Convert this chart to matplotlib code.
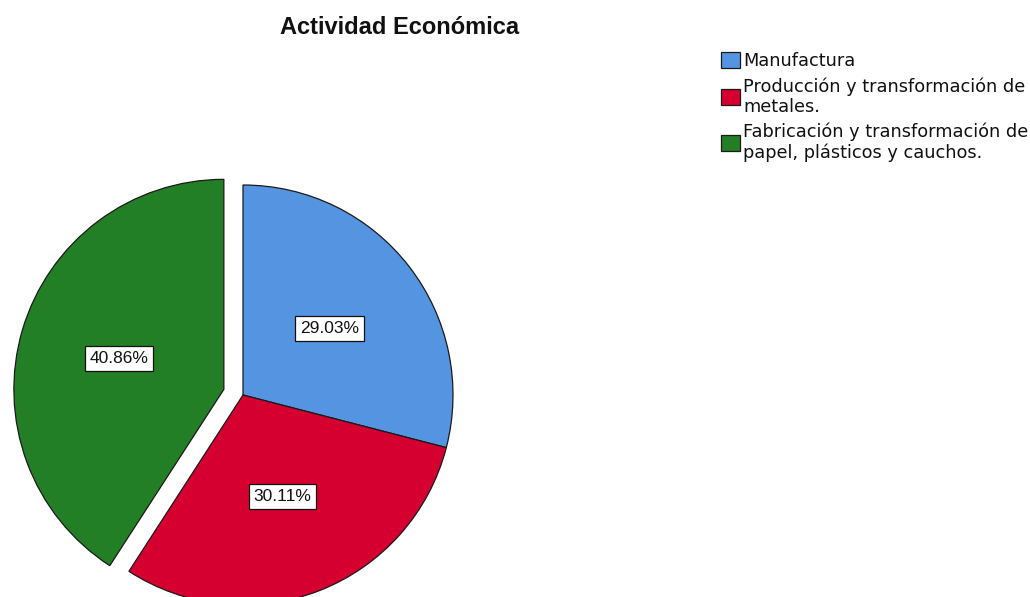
import matplotlib.pyplot as plt
from matplotlib.patches import Patch

# Actividad economica de las empresas (porcentajes)
categorias = ['Manufactura',
              'Producción y transformación de\nmetales.',
              'Fabricación y transformación de\npapel, plásticos y cauchos.']
porcentajes = [29.03, 30.11, 40.86]
colores = ['#5594e0', '#d5002f', '#237f26']
separar = [0, 0, 0.095]

plt.rcParams['font.family'] = ['Liberation Sans', 'DejaVu Sans']

W, H = 1030, 597
fig = plt.figure(figsize=(W / 100, H / 100), dpi=100)

# ejes en pixeles: centro del pastel en (243, 395), radio 210 px
cx, cy, r = 243, H - 395, 210
aw = 520
ax = fig.add_axes([0, 0, aw / W, 1])

wedges, textos, autotextos = ax.pie(
    porcentajes, colors=colores, startangle=90, counterclock=False,
    explode=separar, autopct='%.2f%%', pctdistance=0.52,
    wedgeprops=dict(edgecolor='#1a1a1a', linewidth=0.9),
    textprops=dict(fontsize=12.5, color='#111111'), radius=1)
ax.set_xlim(-cx / r, (aw - cx) / r)
ax.set_ylim(-cy / r, (H - cy) / r)
ax.set_aspect('auto')
ax.axis('off')
for t in autotextos:
    t.set_bbox(dict(boxstyle='square,pad=0.28', facecolor='white',
                    edgecolor='#111111', linewidth=0.9))

fig.text(400 / W, 1 - 28 / H, 'Actividad Económica', ha='center',
         va='center', fontsize=17, fontweight='bold', color='#111111')

manijas = [Patch(facecolor=c, edgecolor='#1a1a1a', linewidth=0.9)
           for c in colores]
leg = fig.legend(manijas, categorias, loc='upper left',
                 bbox_to_anchor=(721 / W, 1 - 52 / H), frameon=False,
                 prop=dict(family='DejaVu Sans', size=12.8),
                 handlelength=1.05, handleheight=1.0,
                 handletextpad=0.2, labelspacing=0.4, borderpad=0,
                 borderaxespad=0)
for t in leg.get_texts():
    t.set_linespacing(1.15)
    t.set_color('#111111')

fig.savefig('out.png', dpi=100)
